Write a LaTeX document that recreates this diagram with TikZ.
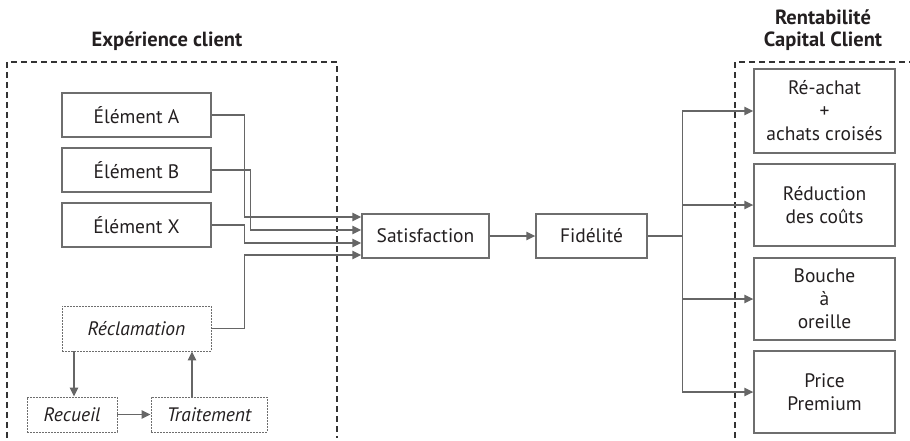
\documentclass[tikz,border=0pt]{standalone}
\usepackage{fontspec}
\setmainfont{PT Sans}
\usetikzlibrary{arrows.meta}
\definecolor{ink}{HTML}{231F20}
\definecolor{edgegrey}{HTML}{6E6E6E}
\definecolor{wire}{HTML}{666666}
\definecolor{frame}{HTML}{333333}
\tikzset{
  box/.style={draw=edgegrey, line width=1.4pt, rectangle, inner sep=0pt, align=center,
    text=ink, font=\fontsize{19.5}{23}\selectfont},
  softbox/.style={box, line width=0.9pt, dash pattern=on 1.6pt off 1.4pt,
    font=\fontsize{19.5}{23}\selectfont\itshape},
  arr/.style={draw=wire, line width=1.4pt, -{Triangle[length=9pt,width=8.5pt]}},
  wireline/.style={draw=wire, line width=1.4pt},
  framed/.style={draw=frame, line width=1.1pt, dash pattern=on 6pt off 4pt},
  heading/.style={text=ink, font=\fontsize{20.5}{22}\selectfont\bfseries, align=center}
}
\begin{document}
\begin{tikzpicture}[x=1pt, y=-1pt]
\useasboundingbox (0,0) rectangle (910,440);

% group frames
\draw[framed] (7,438) -- (7,62) -- (337,62) -- (337,438);
\draw[framed] (735,438) -- (735,62) -- (910,62);
\node[heading] (t1) at (167,41) {Expérience client};
\node[heading] (t2) at (823,30) {Rentabilité\\Capital Client};

% experience elements
\node[box, minimum width=149pt, minimum height=44pt] (ea) at (136.5,115) {Élément A};
\node[box, minimum width=149pt, minimum height=44pt] (eb) at (136.5,170) {Élément B};
\node[box, minimum width=149pt, minimum height=44pt] (ex) at (136.5,225) {Élément X};
\node[softbox, minimum width=149pt, minimum height=45pt] (recl) at (136.5,328.5) {Réclamation};
\node[softbox, minimum width=90pt, minimum height=35pt] (recu) at (72,414.5) {Recueil};
\node[softbox, minimum width=116pt, minimum height=35pt] (trai) at (209,414.5) {Traitement};

% central chain
\node[box, minimum width=127pt, minimum height=44pt] (sat) at (425.5,236) {Satisfaction};
\node[box, minimum width=111pt, minimum height=44pt] (fid) at (591.5,236) {Fidélité};

% outcomes
\node[box, minimum width=141pt, minimum height=84pt] (r1) at (824.5,111) {Ré-achat\\+\\achats croisés};
\node[box, minimum width=141pt, minimum height=82pt] (r2) at (824.5,205) {Réduction\\des coûts};
\node[box, minimum width=141pt, minimum height=82pt] (r3) at (824.5,299) {Bouche\\à\\oreille};
\node[box, minimum width=141pt, minimum height=82pt] (r4) at (824.5,392) {Price\\Premium};

% inputs to satisfaction
\draw[arr] (ea.east) -- ++(33,0) |- ([yshift=19pt]sat.west);
\draw[arr] (eb.east) -- ++(39,0) |- ([yshift=6pt]sat.west);
\draw[arr] (ex.east) -- ++(33,0) |- ([yshift=-7pt]sat.west);
\draw[arr] (recl.east) -- ++(33,0) |- ([yshift=-19pt]sat.west);

% complaint handling loop
\draw[arr] ([xshift=2pt]recu.north |- recl.south) -- ([xshift=2pt]recu.north);
\draw[arr] (recu.east) -- (trai.west);
\draw[arr] ([xshift=-17pt]trai.north) -- ([xshift=-17pt]trai.north |- recl.south);

% chain and fan-out
\draw[arr] (sat.east) -- (fid.west);
\draw[wireline] (fid.east) -- ++(35,0) coordinate (fan);
\draw[arr] (fan) |- (r1.west);
\draw[arr] (fan) |- (r2.west);
\draw[arr] (fan) |- (r3.west);
\draw[arr] (fan) |- (r4.west);
\end{tikzpicture}
\end{document}
